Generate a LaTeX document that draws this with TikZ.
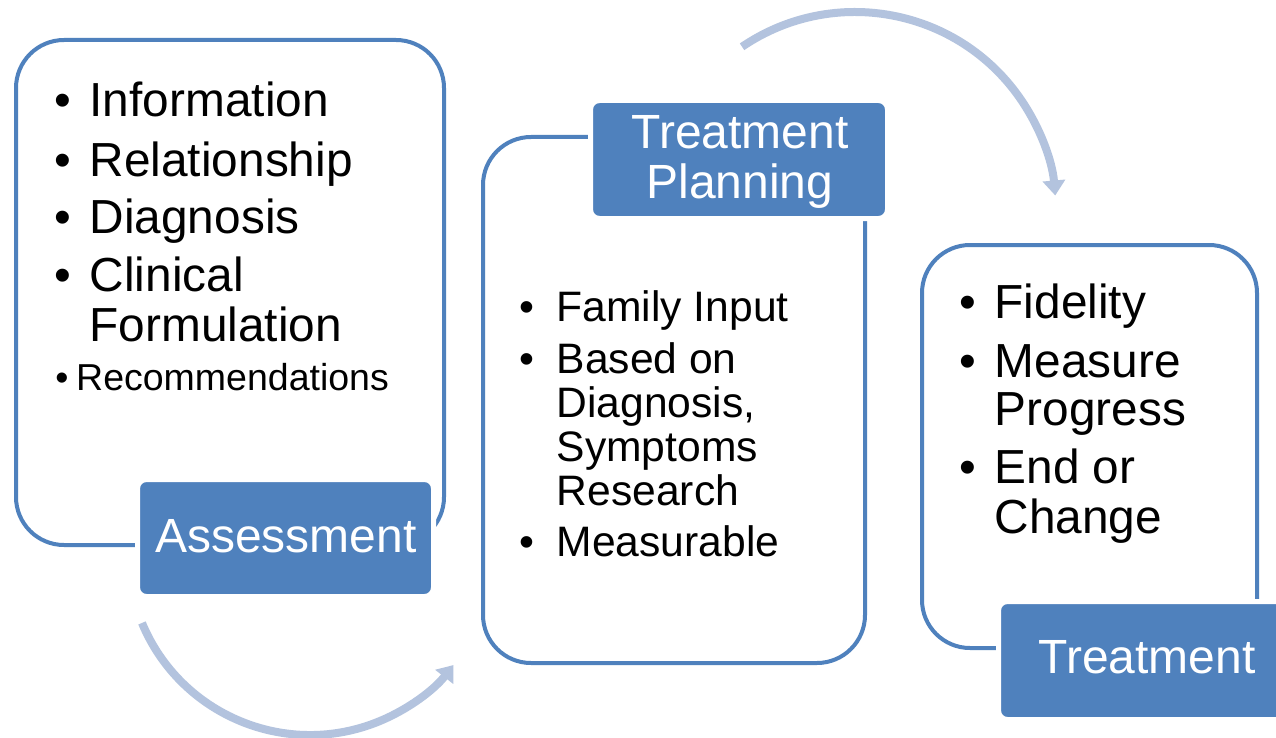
\documentclass[tikz,border=0pt]{standalone}
\usepackage{fontspec}
\setmainfont{Liberation Sans}
\usetikzlibrary{arrows.meta}
\definecolor{mainblue}{HTML}{4F81BD}
\definecolor{arrowblue}{HTML}{B3C3DE}
\tikzset{
  outbox/.style={draw=mainblue, line width=4pt, fill=white, rounded corners=48pt},
  labelbox/.style={draw=white, line width=5pt, fill=mainblue, rounded corners=9pt},
  big/.style={font=\fontsize{47.8}{50}\selectfont, inner sep=0pt, anchor=base west},
  mid/.style={font=\fontsize{42.6}{44}\selectfont, inner sep=0pt, anchor=base west},
  small/.style={font=\fontsize{37.5}{40}\selectfont, inner sep=0pt, anchor=base west},
  bbig/.style={font=\fontsize{47.8}{50}\selectfont, inner sep=0pt, anchor=base},
  bmid/.style={font=\fontsize{42.6}{44}\selectfont, inner sep=0pt, anchor=base},
  bsmall/.style={font=\fontsize{37.5}{40}\selectfont, inner sep=0pt, anchor=base},
  lbl/.style={font=\fontsize{48}{50}\selectfont, inner sep=0pt, anchor=base, text=white},
  flow/.style={draw=arrowblue, line width=8pt, -{Triangle[width=22pt,length=15pt]}}
}
\begin{document}
\begin{tikzpicture}[x=1pt, y=-1pt]
\useasboundingbox (0,0) rectangle (1276,738);
\clip (0,0) rectangle (1276,738);
\fill[white] (0,0) rectangle (1276,738);

% outline boxes
\draw[outbox] (16,40) rectangle (444,545);
\draw[outbox] (483,137) rectangle (865,663);
\draw[outbox] (922,245) rectangle (1257,648);

% label boxes
\draw[labelbox] (137.5,479.5) rectangle (433.5,596.5);
\draw[labelbox] (590.5,100.5) rectangle (887.5,218.5);
\draw[labelbox] (998.5,601.5) rectangle (1295,719.5);

% label texts
\node[lbl] (assess) at (286,552) {Assessment};
\node[lbl] (tp1) at (740,149) {Treatment};
\node[lbl] (tp2) at (740,198) {Planning};
\node[lbl] (treat) at (1147,673) {Treatment};

% box 1 items
\node[bbig] (b1a) at (63,117) {•};
\node[big] (t1a) at (89.5,117) {Information};
\node[bbig] (b1b) at (63,177) {•};
\node[big] (t1b) at (89.5,177) {Relationship};
\node[bbig] (b1c) at (63,233) {•};
\node[big] (t1c) at (89.5,233) {Diagnosis};
\node[bbig] (b1d) at (63,291) {•};
\node[big] (t1d) at (89.5,291) {Clinical};
\node[big] (t1e) at (89.5,341) {Formulation};
\node[bsmall] (b1f) at (62,390) {•};
\node[small] (t1f) at (76,390) {Recommendations};

% box 2 items
\node[bmid] (b2a) at (527,321) {•};
\node[mid] (t2a) at (556.5,321) {Family Input};
\node[bmid] (b2b) at (527,373) {•};
\node[mid] (t2b) at (556.5,373) {Based on};
\node[mid] (t2c) at (556.5,417) {Diagnosis,};
\node[mid] (t2d) at (556.5,461) {Symptoms};
\node[mid] (t2e) at (556.5,505) {Research};
\node[bmid] (b2f) at (527,556) {•};
\node[mid] (t2f) at (556.5,556) {Measurable};

% box 3 items
\node[bbig] (b3a) at (968,318) {•};
\node[big] (t3a) at (994.5,318) {Fidelity};
\node[bbig] (b3b) at (968,377) {•};
\node[big] (t3b) at (994.5,377) {Measure};
\node[big] (t3c) at (994.5,425) {Progress};
\node[bbig] (b3d) at (968,483) {•};
\node[big] (t3d) at (994.5,483) {End or};
\node[big] (t3e) at (994.5,533) {Change};

% flow arrows
\coordinate (c1) at (310,553);
\coordinate (c2) at (855,213);
\draw[flow] (c1) ++(157.4:182) arc[start angle=157.4, end angle=38, radius=182];
\draw[flow] (c2) ++(235.8:201) arc[start angle=235.8, end angle=355, radius=201];
\end{tikzpicture}
\end{document}
